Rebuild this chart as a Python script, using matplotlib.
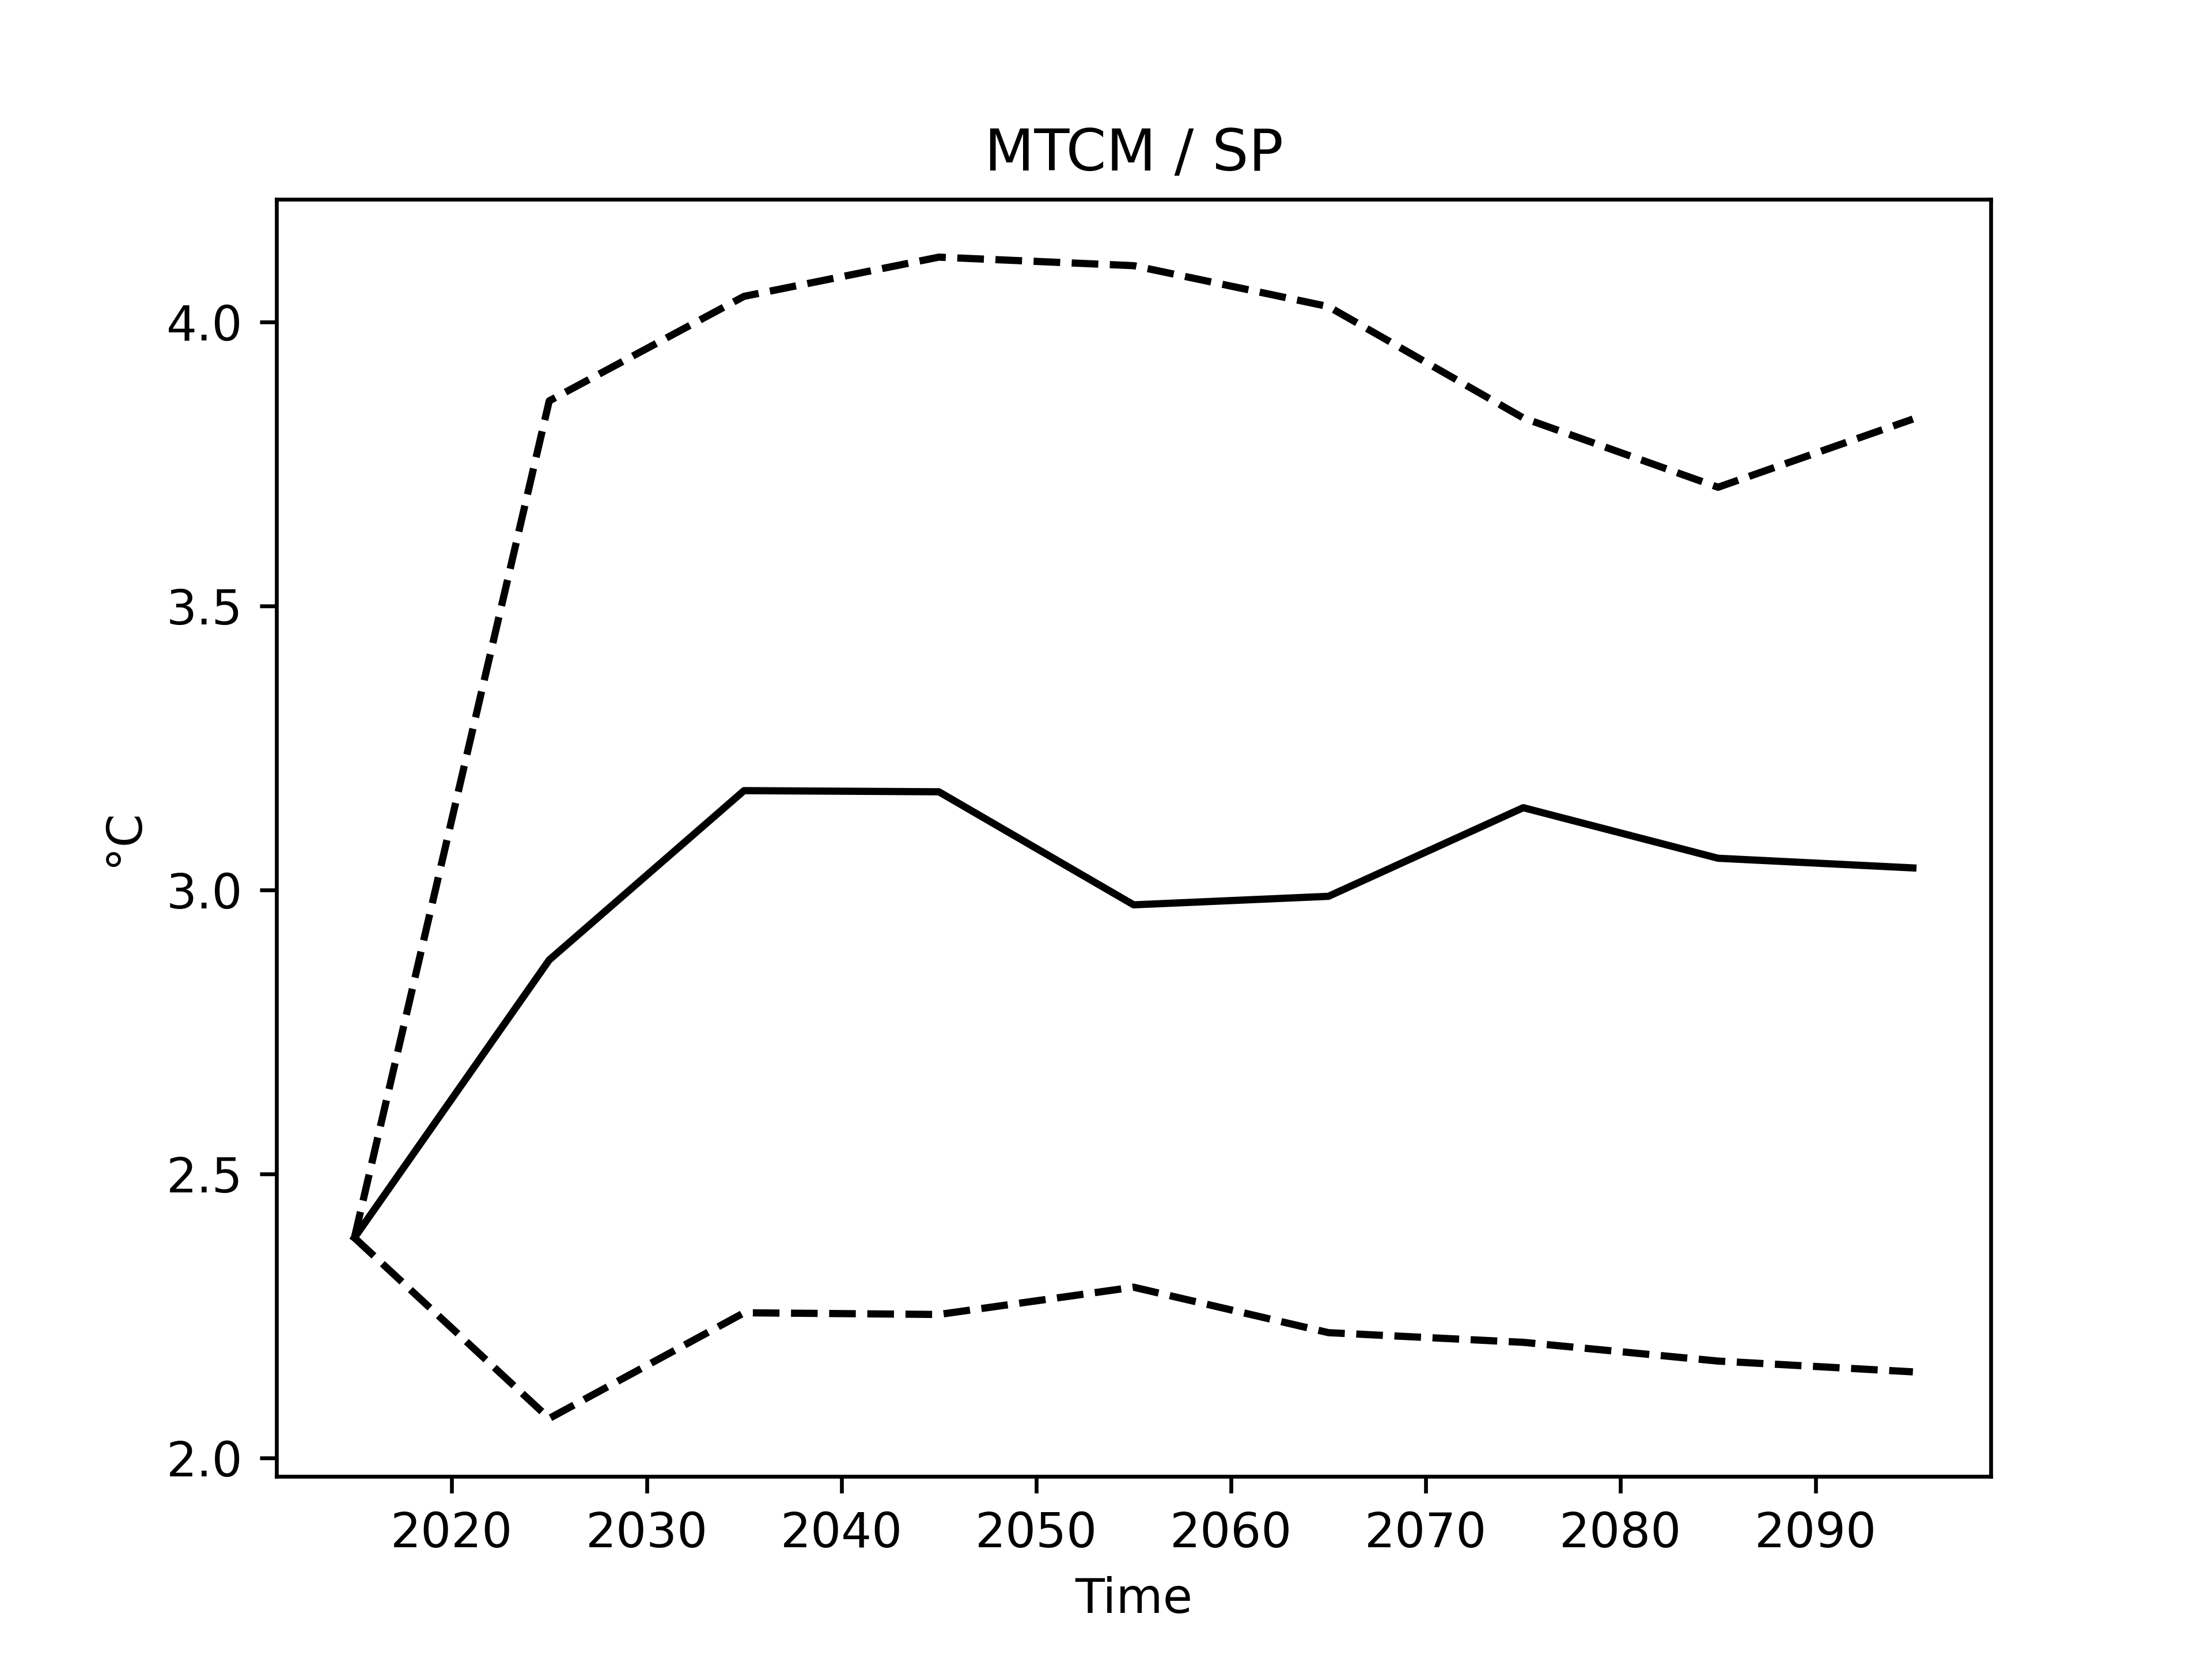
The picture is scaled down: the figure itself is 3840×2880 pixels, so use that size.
import matplotlib
matplotlib.use("Agg")
import matplotlib.pyplot as plt
from matplotlib.ticker import MultipleLocator

# decadal values, MTCM / SP
years = [2015, 2025, 2035, 2045, 2055, 2065, 2075, 2085, 2095]
mean_vals = [2.388, 2.877, 3.175, 3.173, 2.974, 2.989, 3.145, 3.056, 3.039]
upper_vals = [2.388, 3.861, 4.045, 4.114, 4.099, 4.027, 3.831, 3.709, 3.829]
lower_vals = [2.388, 2.070, 2.256, 2.253, 2.301, 2.221, 2.204, 2.171, 2.152]

fig, ax = plt.subplots(figsize=(6.4, 4.8), dpi=600)
ax.plot(years, mean_vals, color='k')
ax.plot(years, upper_vals, color='k', linestyle='--')
ax.plot(years, lower_vals, color='k', linestyle='--')
ax.yaxis.set_major_locator(MultipleLocator(0.5))
ax.set_title('MTCM / SP')
ax.set_xlabel('Time')
ax.set_ylabel('°C')

plt.savefig('out.png', dpi=600)
